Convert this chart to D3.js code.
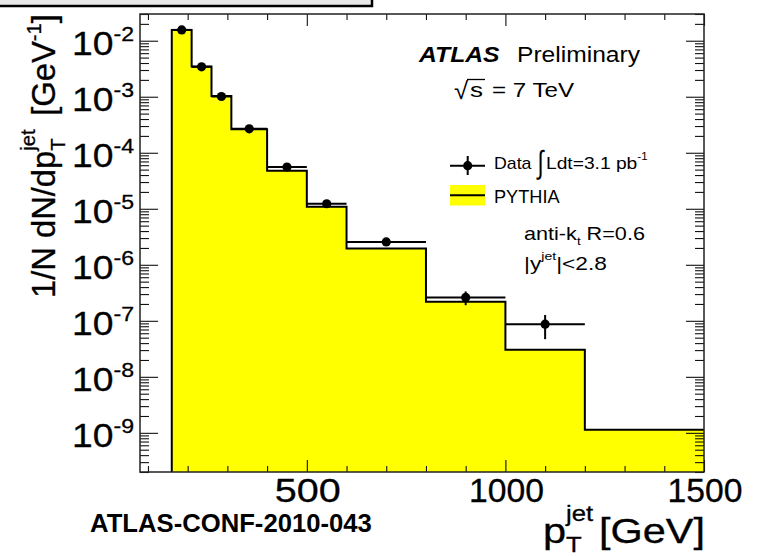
<!DOCTYPE html>
<html>
<head>
<meta charset="utf-8">
<script src="https://cdn.jsdelivr.net/npm/d3@7/dist/d3.min.js"></script>
<style>
  html, body { margin: 0; padding: 0; background: #ffffff; }
  svg { display: block; font-family: "Liberation Sans", Arial, Helvetica, sans-serif; }
</style>
</head>
<body>
<svg id="chart" width="761" height="556"></svg>
<script>
// Inclusive jet pT spectrum, anti-kt R=0.6, |y|<2.8, sqrt(s)=7 TeV
// Bin edges in pT [GeV]
const binEdges = [160, 210, 260, 310, 400, 500, 600, 800, 1000, 1200, 1500];
// PYTHIA prediction, 1/N dN/dpT [GeV^-1]
const pythiaValues = [1.55e-2, 3.45e-3, 1.03e-3, 2.62e-4, 4.75e-5, 1.09e-5, 1.95e-6, 2.18e-7, 3.04e-8, 1.13e-9];
// Measured data, 1/N dN/dpT [GeV^-1] (no entry in the last bin)
const dataValues = [1.56e-2, 3.42e-3, 1.01e-3, 2.68e-4, 5.55e-5, 1.23e-5, 2.56e-6, 2.62e-7, 8.7e-8];
// Statistical uncertainty on the data
const dataErrors = [1e-4, 3e-5, 1e-5, 3e-6, 1e-6, 4e-7, 1.2e-7, 7.2e-8, 4.0e-8];
// Axis tick labels
const xTickLabels = [500, 1000, 1500];
const yTickExponents = [-2, -3, -4, -5, -6, -7, -8, -9];

const svg = d3.select("#chart");
const plot = { left: 140, right: 704, top: 14, bottom: 472 };

const x = d3.scaleLinear().domain([80, 1500]).range([plot.left, plot.right]);
const y = d3.scaleLog().domain([2e-10, 3e-2]).range([plot.bottom, plot.top]);

// Header bar above the figure
svg.append("rect")
  .attr("x", -3).attr("y", -3).attr("width", 375).attr("height", 9)
  .attr("fill", "#e9e9e9").attr("stroke", "#000").attr("stroke-width", 2.5);

// ---- PYTHIA histogram ----
const stepPts = binEdges.slice(0, -1).map((e, i) => [e, pythiaValues[i]])
  .concat([[binEdges[binEdges.length - 1], pythiaValues[pythiaValues.length - 1]]]);

const area = d3.area().curve(d3.curveStepAfter)
  .x(d => x(d[0])).y0(plot.bottom).y1(d => y(d[1]));
svg.append("path").datum(stepPts).attr("d", area).attr("fill", "#ffff00");

const outline = d3.line().curve(d3.curveStepAfter)
  .x(d => x(d[0])).y(d => Math.min(y(d[1]), plot.bottom));
svg.append("path").datum([[binEdges[0], 2e-10]].concat(stepPts))
  .attr("d", outline).attr("fill", "none").attr("stroke", "#000").attr("stroke-width", 2);

// ---- Axis ticks (inside the frame, on all four sides) ----
const minorY = [];
for (let e = -10; e <= -2; e++) {
  for (let k = 2; k <= 9; k++) {
    const v = k * Math.pow(10, e);
    if (v >= 2e-10 && v <= 3e-2) minorY.push(v);
  }
}
const majorY = yTickExponents.map(e => Math.pow(10, e));
const minorX = d3.range(100, 1501, 100).filter(v => !xTickLabels.includes(v));

function ticks(axis, tx, ty) {
  const g = svg.append("g").attr("transform", `translate(${tx},${ty})`).call(axis);
  g.select(".domain").remove();
  g.selectAll("line").attr("stroke", "#111").attr("stroke-width", 1.1);
  g.selectAll("text").remove();
  return g;
}
ticks(d3.axisLeft(y).tickValues(minorY).tickSize(-9).tickFormat(""), plot.left, 0);
ticks(d3.axisLeft(y).tickValues(majorY).tickSize(-18).tickFormat(""), plot.left, 0);
ticks(d3.axisRight(y).tickValues(minorY).tickSize(-9).tickFormat(""), plot.right, 0);
ticks(d3.axisRight(y).tickValues(majorY).tickSize(-18).tickFormat(""), plot.right, 0);
ticks(d3.axisBottom(x).tickValues(minorX).tickSize(-6).tickFormat(""), 0, plot.bottom);
ticks(d3.axisBottom(x).tickValues(xTickLabels).tickSize(-12).tickFormat(""), 0, plot.bottom);
ticks(d3.axisTop(x).tickValues(minorX).tickSize(-6).tickFormat(""), 0, plot.top);
ticks(d3.axisTop(x).tickValues(xTickLabels).tickSize(-12).tickFormat(""), 0, plot.top);

// Frame
svg.append("rect")
  .attr("x", plot.left).attr("y", plot.top)
  .attr("width", plot.right - plot.left).attr("height", plot.bottom - plot.top)
  .attr("fill", "none").attr("stroke", "#222").attr("stroke-width", 1.5);

// ---- Data points ----
const pts = dataValues.map((v, i) => ({
  x0: binEdges[i], x1: binEdges[i + 1], xc: (binEdges[i] + binEdges[i + 1]) / 2, v, err: dataErrors[i]
}));
const dataG = svg.append("g");
dataG.selectAll("line.h").data(pts).join("line")
  .attr("x1", d => x(d.x0)).attr("x2", d => x(d.x1))
  .attr("y1", d => y(d.v)).attr("y2", d => y(d.v))
  .attr("stroke", "#000").attr("stroke-width", 2);
dataG.selectAll("line.v").data(pts).join("line")
  .attr("x1", d => x(d.xc)).attr("x2", d => x(d.xc))
  .attr("y1", d => y(d.v + d.err)).attr("y2", d => y(d.v - d.err))
  .attr("stroke", "#000").attr("stroke-width", 2);
dataG.selectAll("circle").data(pts).join("circle")
  .attr("cx", d => x(d.xc)).attr("cy", d => y(d.v)).attr("r", 4.6).attr("fill", "#000");

// ---- Text helper: runs of normal / superscript / subscript text,
// stretched horizontally to a given ink width ----
function richText(parent, px, py, parts, opt) {
  const size = opt.size;
  const g = parent.append("g");
  const t = g.append("text").attr("x", 0).attr("y", 0)
    .attr("font-size", size)
    .attr("font-weight", opt.weight || "normal")
    .attr("font-style", opt.style || "normal")
    .attr("fill", "#000");
  if (opt.stroke) t.attr("stroke", "#000").attr("stroke-width", opt.stroke);
  let cur = 0;
  parts.forEach(p => {
    const s = p.scale ? size * p.scale : size;
    const shift = p.shift ? p.shift * size : 0;
    const ts = t.append("tspan").attr("font-size", s).attr("dy", shift - cur).text(p.t);
    if (p.dx) ts.attr("dx", p.dx * size);
    cur = shift;
  });
  const bb = t.node().getBBox();
  const sx = opt.width ? opt.width / bb.width : (opt.sx || 1);
  const total = bb.width * sx;
  let off = -bb.x * sx;
  if (opt.anchor === "end") off -= total;
  else if (opt.anchor === "middle") off -= total / 2;
  if (opt.rotate) {
    g.attr("transform", `translate(${px},${py}) rotate(${opt.rotate}) translate(${off},0) scale(${sx},1)`);
  } else {
    g.attr("transform", `translate(${px + off},${py}) scale(${sx},1)`);
  }
  return g;
}

const SUP = -0.42;

// y tick labels 10^n
yTickExponents.forEach(e => {
  richText(svg, 134, y(Math.pow(10, e)) + 14.5,
    [{ t: "10" }, { t: "-" + Math.abs(e), scale: 0.62, shift: SUP }],
    { size: 33, width: 62, anchor: "end", stroke: 0.3 });
});

// x tick labels
xTickLabels.forEach(v => {
  richText(svg, x(v) + 1, 502, [{ t: String(v) }],
    { size: 33, width: v < 1000 ? 66 : 75, anchor: "middle", stroke: 0.3 });
});

// y axis title
richText(svg, 55, 298, [
  { t: "1/N dN/dp" },
  { t: "T", scale: 0.62, shift: 0.28 },
  { t: "jet", scale: 0.62, shift: -0.6, dx: -0.38 },
  { t: "[GeV", dx: 0.42 },
  { t: "-1", scale: 0.62, shift: SUP },
  { t: "]" }
], { size: 34, width: 284, rotate: -90, stroke: 0.3 });

// x axis title
richText(svg, 705, 543, [
  { t: "p" },
  { t: "T", scale: 0.62, shift: 0.27 },
  { t: "jet", scale: 0.62, shift: -0.62, dx: -0.38 },
  { t: "[GeV]", dx: 0.14 }
], { size: 35, width: 162, anchor: "end", stroke: 0.3 });

// Note id
richText(svg, 90, 532, [{ t: "ATLAS-CONF-2010-043" }],
  { size: 25, width: 282, weight: "bold" });

// Experiment label
richText(svg, 418, 62, [{ t: "ATLAS" }], { size: 22, width: 82, weight: "bold", style: "italic" });
richText(svg, 517, 62, [{ t: "Preliminary" }], { size: 22, width: 123 });

// Centre-of-mass energy
richText(svg, 454, 99, [{ t: "√" }], { size: 24, width: 15 });
svg.append("line").attr("x1", 467).attr("x2", 485).attr("y1", 79.5).attr("y2", 79.5)
  .attr("stroke", "#000").attr("stroke-width", 1.3);
richText(svg, 470, 97, [{ t: "s" }], { size: 20, width: 13 });
richText(svg, 492, 97, [{ t: "= 7 TeV" }], { size: 20, width: 83 });

// Legend
const lg = svg.append("g");
lg.append("line").attr("x1", 450).attr("x2", 485).attr("y1", 165.7).attr("y2", 165.7)
  .attr("stroke", "#000").attr("stroke-width", 2);
lg.append("line").attr("x1", 467.7).attr("x2", 467.7).attr("y1", 156).attr("y2", 175)
  .attr("stroke", "#000").attr("stroke-width", 2);
lg.append("circle").attr("cx", 467.7).attr("cy", 165.7).attr("r", 4.6).attr("fill", "#000");
richText(lg, 494, 168.5, [{ t: "Data" }], { size: 17, width: 38 });
richText(lg, 536, 173, [{ t: "∫" }], { size: 32, width: 9 });
richText(lg, 546, 168.5, [{ t: "Ldt=3.1 pb" }, { t: "-1", scale: 0.6, shift: -0.5 }],
  { size: 17, width: 102 });

lg.append("rect").attr("x", 450).attr("y", 185).attr("width", 35).attr("height", 20.5)
  .attr("fill", "#ffff00");
lg.append("line").attr("x1", 450).attr("x2", 485).attr("y1", 195.2).attr("y2", 195.2)
  .attr("stroke", "#000").attr("stroke-width", 2);
richText(lg, 494, 203, [{ t: "PYTHIA" }], { size: 17.5, width: 66 });

// Jet selection
richText(svg, 524, 240, [{ t: "anti-k" }, { t: "t", scale: 0.62, shift: 0.3 }, { t: " R=0.6" }],
  { size: 18, width: 121 });
richText(svg, 524, 270, [{ t: "|y" }, { t: "jet", scale: 0.62, shift: -0.55 }, { t: "|<2.8" }],
  { size: 18, width: 83 });
</script>
</body>
</html>
